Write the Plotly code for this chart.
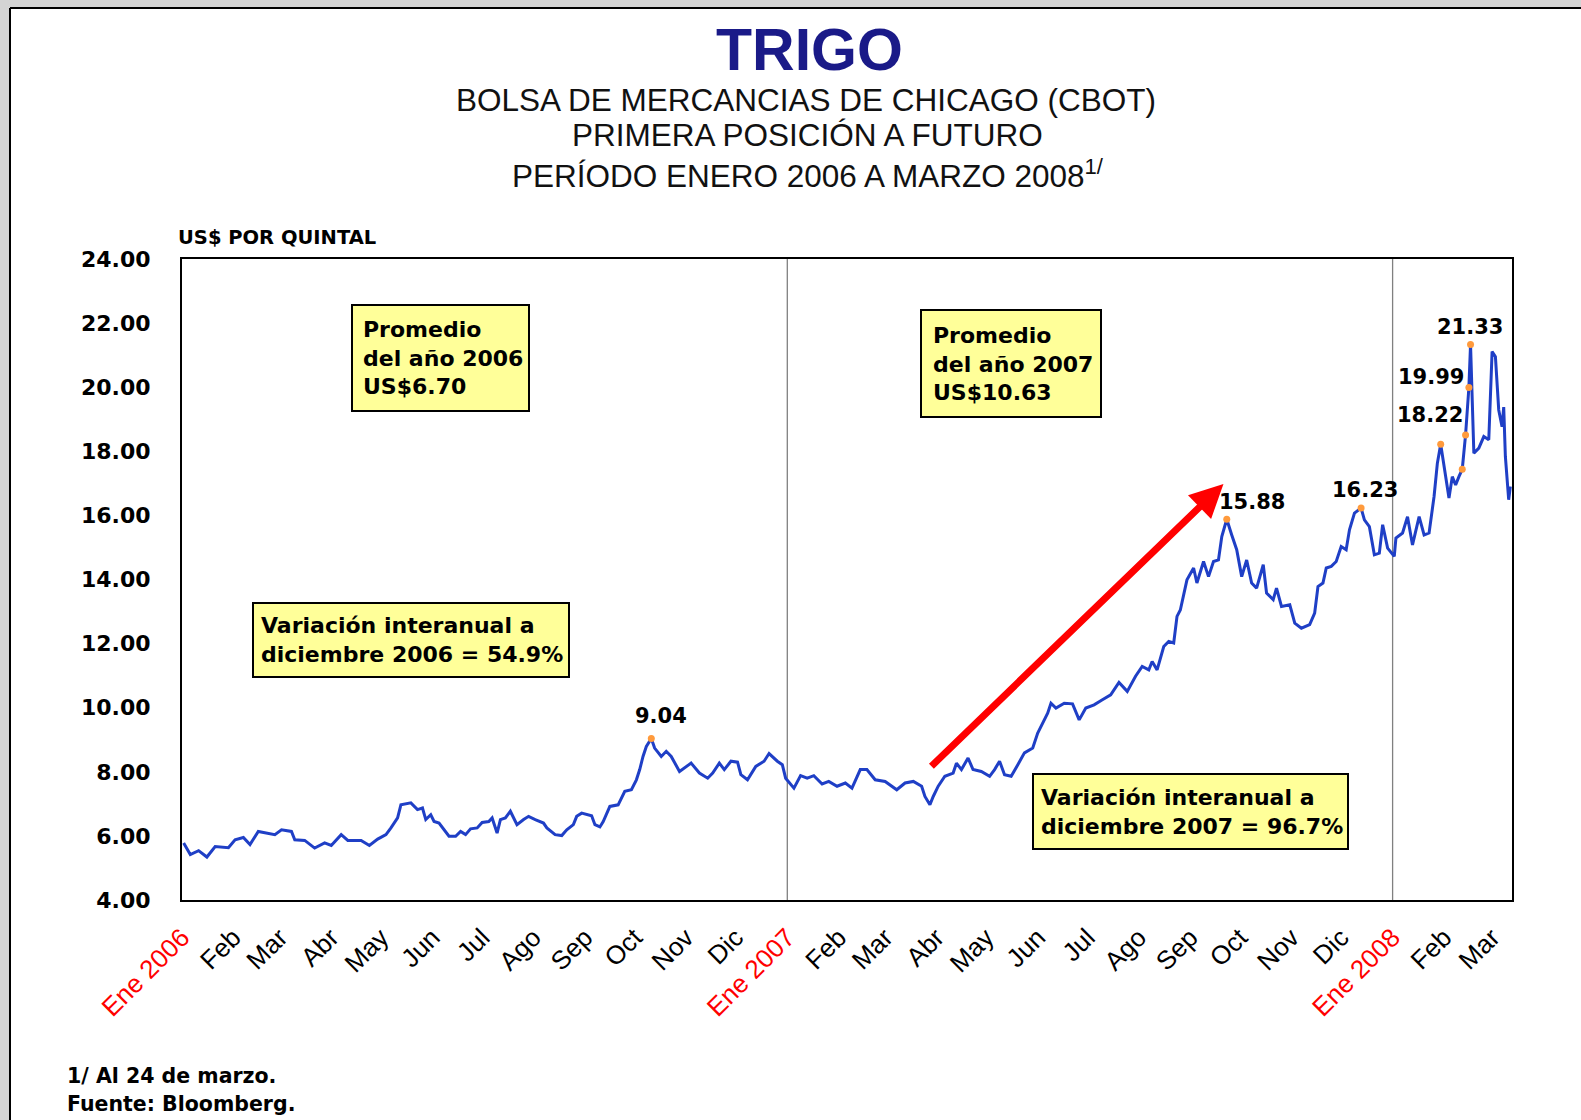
import plotly.graph_objects as go

# ---------------- data ----------------
dates = [
    "2006-01-02","2006-01-06","2006-01-11","2006-01-16","2006-01-21","2006-01-29","2006-02-02","2006-02-07",
    "2006-02-11","2006-02-16","2006-02-26","2006-03-02","2006-03-08","2006-03-10","2006-03-16","2006-03-22",
    "2006-03-28","2006-04-01","2006-04-07","2006-04-11","2006-04-19","2006-04-24","2006-04-29","2006-05-04",
    "2006-05-07","2006-05-11","2006-05-13","2006-05-19","2006-05-23","2006-05-26","2006-05-28","2006-05-31",
    "2006-06-02","2006-06-05","2006-06-11","2006-06-15","2006-06-18","2006-06-21","2006-06-24","2006-06-28",
    "2006-07-01","2006-07-05","2006-07-07","2006-07-10","2006-07-12","2006-07-15","2006-07-18","2006-07-22",
    "2006-07-26","2006-07-29","2006-08-02","2006-08-07","2006-08-09","2006-08-14","2006-08-18","2006-08-21",
    "2006-08-25","2006-08-27","2006-08-30","2006-09-05","2006-09-07","2006-09-10","2006-09-12","2006-09-16",
    "2006-09-21","2006-09-25","2006-09-29","2006-10-02","2006-10-04","2006-10-06","2006-10-08","2006-10-11",
    "2006-10-13","2006-10-17","2006-10-20","2006-10-23","2006-10-28","2006-11-04","2006-11-09","2006-11-14",
    "2006-11-17","2006-11-21","2006-11-24","2006-11-28","2006-12-02","2006-12-04","2006-12-08","2006-12-13",
    "2006-12-18","2006-12-21","2006-12-26","2006-12-29","2006-12-31",
    "2007-01-05","2007-01-09","2007-01-13","2007-01-17","2007-01-22","2007-01-26","2007-01-31","2007-02-05",
    "2007-02-09","2007-02-14","2007-02-18","2007-02-23","2007-03-01","2007-03-08","2007-03-13","2007-03-18",
    "2007-03-23","2007-03-25","2007-03-28","2007-03-30","2007-04-02","2007-04-06","2007-04-11","2007-04-13",
    "2007-04-16","2007-04-20","2007-04-23","2007-04-28","2007-05-03","2007-05-06","2007-05-09","2007-05-12",
    "2007-05-16","2007-05-20","2007-05-24","2007-05-29","2007-06-01","2007-06-07","2007-06-09","2007-06-12",
    "2007-06-17","2007-06-22","2007-06-26","2007-06-30","2007-07-05","2007-07-10","2007-07-15","2007-07-20",
    "2007-07-25","2007-07-30","2007-08-03","2007-08-07","2007-08-09","2007-08-12","2007-08-16","2007-08-19",
    "2007-08-22","2007-08-24","2007-08-26","2007-08-28","2007-08-30","2007-09-03","2007-09-05","2007-09-09",
    "2007-09-12","2007-09-15","2007-09-18","2007-09-20","2007-09-23","2007-09-26","2007-09-29","2007-10-02",
    "2007-10-05","2007-10-08","2007-10-11","2007-10-15","2007-10-17","2007-10-21","2007-10-23","2007-10-26",
    "2007-10-31","2007-11-03","2007-11-07","2007-11-12","2007-11-15","2007-11-17","2007-11-20","2007-11-22",
    "2007-11-25","2007-11-28","2007-12-01","2007-12-04","2007-12-06","2007-12-09","2007-12-13","2007-12-15",
    "2007-12-18","2007-12-21","2007-12-24","2007-12-26","2007-12-29",
    "2008-01-02","2008-01-03","2008-01-07","2008-01-10","2008-01-13","2008-01-17","2008-01-20","2008-01-23",
    "2008-01-26","2008-01-28","2008-01-30","2008-02-02","2008-02-04","2008-02-06","2008-02-08","2008-02-10",
    "2008-02-12","2008-02-14","2008-02-15","2008-02-16","2008-02-17","2008-02-18","2008-02-19","2008-02-22",
    "2008-02-25","2008-02-28","2008-02-29","2008-03-01","2008-03-03","2008-03-05","2008-03-07","2008-03-08",
    "2008-03-09","2008-03-11","2008-03-12",
]
prices = [
    5.78, 5.42, 5.54, 5.34, 5.67, 5.63, 5.88, 5.95,
    5.73, 6.14, 6.04, 6.19, 6.14, 5.88, 5.86, 5.62,
    5.78, 5.70, 6.04, 5.86, 5.86, 5.70, 5.90, 6.04,
    6.25, 6.56, 6.97, 7.03, 6.82, 6.87, 6.51, 6.66,
    6.45, 6.40, 5.99, 5.99, 6.14, 6.04, 6.22, 6.25,
    6.42, 6.45, 6.56, 6.09, 6.51, 6.56, 6.77, 6.35,
    6.51, 6.61, 6.51, 6.40, 6.25, 6.04, 6.01, 6.19,
    6.35, 6.61, 6.71, 6.63, 6.35, 6.28, 6.45, 6.92,
    6.97, 7.39, 7.44, 7.75, 8.07, 8.48, 8.79, 9.04,
    8.74, 8.48, 8.64, 8.48, 8.01, 8.27, 7.96, 7.80,
    7.96, 8.27, 8.07, 8.33, 8.30, 7.91, 7.75, 8.17,
    8.33, 8.57, 8.33, 8.22, 7.80,
    7.49, 7.88, 7.80, 7.88, 7.62, 7.70, 7.55, 7.65,
    7.49, 8.07, 8.07, 7.75, 7.70, 7.44, 7.65, 7.70,
    7.55, 7.23, 6.97, 7.23, 7.55, 7.86, 7.96, 8.27,
    8.07, 8.43, 8.07, 8.01, 7.86, 8.07, 8.33, 7.91,
    7.86, 8.22, 8.59, 8.74, 9.21, 9.83, 10.14, 9.99,
    10.14, 10.12, 9.62, 9.99, 10.09, 10.25, 10.40, 10.79,
    10.51, 10.98, 11.29, 11.18, 11.44, 11.18, 11.91, 12.07,
    12.02, 12.85, 13.05, 13.52, 13.99, 14.36, 13.89, 14.56,
    14.09, 14.56, 14.61, 15.34, 15.88, 15.39, 14.93, 14.09,
    14.61, 13.89, 13.73, 14.46, 13.58, 13.37, 13.73, 13.16,
    13.21, 12.64, 12.48, 12.59, 12.95, 13.78, 13.89, 14.36,
    14.41, 14.56, 15.03, 14.93, 15.55, 16.07, 16.23, 15.86,
    15.65, 14.77, 14.82, 15.71, 14.98,
    14.72, 15.29, 15.45, 15.96, 15.08, 15.96, 15.39, 15.45,
    16.59, 17.63, 18.22, 17.21, 16.54, 17.21, 16.95, 17.21,
    17.44, 18.51, 19.39, 19.99, 21.33, 19.39, 17.94, 18.10,
    18.46, 18.36, 19.71, 21.11, 20.95, 19.29, 18.77, 19.38,
    17.84, 16.49, 16.90,
]

marker_dates = ["2006-10-11", "2007-09-23", "2007-12-13", "2008-01-30",
                "2008-02-12", "2008-02-14", "2008-02-16", "2008-02-17"]
label_dates = ["2006-10-11", "2007-09-23", "2007-12-13", "2008-01-30", "2008-02-16", "2008-02-17"]

tick_dates = ["2006-01-01", "2006-02-01", "2006-03-01", "2006-04-01", "2006-05-01", "2006-06-01",
              "2006-07-01", "2006-08-01", "2006-09-01", "2006-10-01", "2006-11-01", "2006-12-01",
              "2007-01-01", "2007-02-01", "2007-03-01", "2007-04-01", "2007-05-01", "2007-06-01",
              "2007-07-01", "2007-08-01", "2007-09-01", "2007-10-01", "2007-11-01", "2007-12-01",
              "2008-01-01", "2008-02-01", "2008-03-01"]
month_names = ["Ene 2006", "Feb", "Mar", "Abr", "May", "Jun", "Jul", "Ago", "Sep", "Oct", "Nov", "Dic",
               "Ene 2007", "Feb", "Mar", "Abr", "May", "Jun", "Jul", "Ago", "Sep", "Oct", "Nov", "Dic",
               "Ene 2008", "Feb", "Mar"]
y_ticks = [4, 6, 8, 10, 12, 14, 16, 18, 20, 22, 24]
year_starts = ["2007-01-01", "2008-01-01"]

# ---------------- layout helpers (pixel -> paper) ----------------
FW, FH = 1581, 1120
L, R, T, B = 182, 1512, 259, 900
W, H = R - L, B - T


def fx(px):
    return (px - L) / W


def fy(py):
    return (B - py) / H


ticktext = [
    ('<span style="color:#ff0000">%s</span>' % m) if m.startswith("Ene") else m
    for m in month_names
]

fig = go.Figure()
fig.add_trace(go.Scatter(x=dates, y=prices, mode="lines",
                         line=dict(color="#1f3fc6", width=3), hoverinfo="skip"))
mk_vals = [prices[dates.index(d)] for d in marker_dates]
fig.add_trace(go.Scatter(x=marker_dates, y=mk_vals, mode="markers",
                         marker=dict(color="#ff9a3c", size=7), hoverinfo="skip"))

shapes = []
# outer gray strips and frame
shapes.append(dict(type="rect", xref="paper", yref="paper", x0=fx(0), x1=fx(FW), y0=fy(8), y1=fy(0),
                   fillcolor="#d4d4d4", line=dict(width=0), layer="above"))
shapes.append(dict(type="rect", xref="paper", yref="paper", x0=fx(0), x1=fx(10), y0=fy(FH), y1=fy(0),
                   fillcolor="#d4d4d4", line=dict(width=0), layer="above"))
shapes.append(dict(type="line", xref="paper", yref="paper", x0=fx(10), x1=fx(10), y0=fy(FH), y1=fy(8),
                   line=dict(color="black", width=2), layer="above"))
shapes.append(dict(type="line", xref="paper", yref="paper", x0=fx(10), x1=fx(FW), y0=fy(8), y1=fy(8),
                   line=dict(color="black", width=2), layer="above"))
# year separators
for d in year_starts:
    shapes.append(dict(type="line", xref="x", yref="y", x0=d, x1=d, y0=4, y1=24,
                       line=dict(color="#808080", width=1.3), layer="below"))

# yellow boxes
boxes = [
    ((352, 305, 529, 411), 361, "Promedio<br>del año 2006<br>US$6.70"),
    ((921, 310, 1101, 417), 931, "Promedio<br>del año 2007<br>US$10.63"),
    ((253, 603, 569, 677), 259, "Variación interanual a<br>diciembre 2006 = 54.9%"),
    ((1033, 774, 1348, 849), 1039, "Variación interanual a<br>diciembre 2007 = 96.7%"),
]
annotations = []
for (x0, y0, x1, y1), tx, txt in boxes:
    shapes.append(dict(type="rect", xref="paper", yref="paper", x0=fx(x0), x1=fx(x1), y0=fy(y1), y1=fy(y0),
                       fillcolor="#ffff99", line=dict(color="black", width=2), layer="above"))
    annotations.append(dict(xref="paper", yref="paper", x=fx(tx), y=fy((y0 + y1) / 2), text=txt,
                            showarrow=False, xanchor="left", yanchor="middle", align="left",
                            font=dict(family="DejaVu Sans", size=22, color="black", weight="bold")))

# titles
annotations.append(dict(xref="paper", yref="paper", x=fx(809), y=fy(50), text="TRIGO", showarrow=False,
                        xanchor="center", yanchor="middle",
                        font=dict(family="Liberation Sans, Arial", size=59, color="#1a1a88", weight="bold")))
for txt, cx, cy in [("BOLSA DE MERCANCIAS DE CHICAGO (CBOT)", 806, 100),
                    ("PRIMERA POSICIÓN A FUTURO", 807, 135),
                    ("PERÍODO ENERO 2006 A MARZO 2008<sup>1/</sup>", 808, 174)]:
    annotations.append(dict(xref="paper", yref="paper", x=fx(cx), y=fy(cy), text=txt, showarrow=False,
                            xanchor="center", yanchor="middle",
                            font=dict(family="Liberation Sans, Arial", size=31.5, color="#111111")))
annotations.append(dict(xref="paper", yref="paper", x=fx(176), y=fy(237), text="US$ POR QUINTAL",
                        showarrow=False, xanchor="left", yanchor="middle",
                        font=dict(family="DejaVu Sans", size=19.5, color="black", weight="bold")))
for txt, cy in [("1/ Al 24 de marzo.", 1076), ("Fuente: Bloomberg.", 1104)]:
    annotations.append(dict(xref="paper", yref="paper", x=fx(65), y=fy(cy), text=txt, showarrow=False,
                            xanchor="left", yanchor="middle",
                            font=dict(family="DejaVu Sans", size=20.5, color="black", weight="bold")))

# value labels
label_pos = [(661, 716), (1252, 502), (1365, 490), (1430, 415), (1431, 377), (1470, 327)]
for d, (cx, cy) in zip(label_dates, label_pos):
    v = prices[dates.index(d)]
    annotations.append(dict(xref="paper", yref="paper", x=fx(cx), y=fy(cy), text="%.2f" % v,
                            showarrow=False, xanchor="center", yanchor="middle",
                            font=dict(family="DejaVu Sans", size=21, color="black", weight="bold")))

# red arrow
arrow_tail = ("2007-03-28", 8.13)
arrow_head = ("2007-09-21", 16.98)
annotations.append(dict(xref="x", yref="y", axref="x", ayref="y",
                        x=arrow_head[0], y=arrow_head[1], ax=arrow_tail[0], ay=arrow_tail[1],
                        text="", showarrow=True, arrowhead=2, arrowsize=0.95, arrowwidth=7,
                        arrowcolor="#ff0000", standoff=0, startstandoff=0))

fig.update_layout(
    width=FW, height=FH,
    margin=dict(l=L, r=FW - R, t=T, b=FH - B, pad=0),
    paper_bgcolor="white", plot_bgcolor="white",
    showlegend=False, shapes=shapes, annotations=annotations,
)
fig.update_xaxes(type="date", range=["2006-01-01", "2008-03-13"], tickmode="array",
                 tickvals=tick_dates, ticktext=ticktext, tickangle=-45,
                 tickfont=dict(family="Liberation Sans, Arial", size=26, color="black"),
                 showgrid=False, zeroline=False, showline=True, linecolor="black", linewidth=2,
                 mirror=True, ticks="", ticklabelstandoff=10)
fig.update_yaxes(range=[4, 24], tickmode="array", tickvals=y_ticks,
                 ticktext=["%.2f" % v for v in y_ticks],
                 tickfont=dict(family="DejaVu Sans", size=22, color="black", weight="bold"),
                 showgrid=False, zeroline=False, showline=True, linecolor="black", linewidth=2,
                 mirror=True, ticks="", ticklabelstandoff=25)

fig.write_html("out.html", config={"displayModeBar": False},
               post_script="document.body.style.margin='0';document.body.style.overflow='hidden';")
